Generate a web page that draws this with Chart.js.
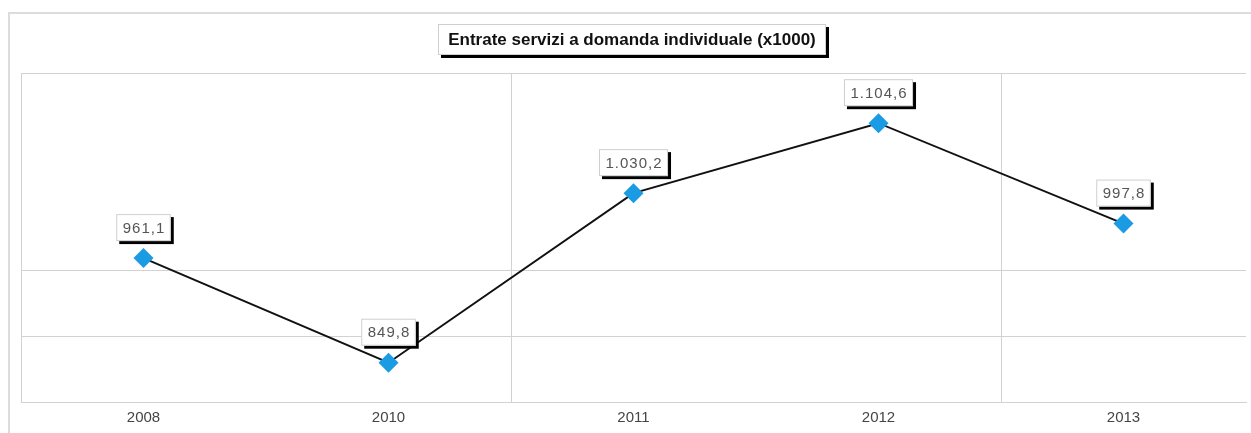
<!DOCTYPE html>
<html>
<head>
<meta charset="utf-8">
<script src="https://cdn.jsdelivr.net/npm/chart.js@4"></script>
<style>
  html, body { margin: 0; padding: 0; background: #fff; }
  body { width: 1251px; height: 433px; position: relative; overflow: hidden; font-family: "Liberation Sans", Arial, sans-serif; }
  #frame { position: absolute; left: 8px; top: 12px; width: 1260px; height: 440px; border: 2px solid #dcdcdc; box-sizing: border-box; }
  #wrap { position: absolute; left: 0; top: 0; width: 1251px; height: 433px; }
  #title {
    position: absolute; left: 438px; top: 24px; width: 388px; height: 31px;
    border: 1px solid #cfcfcf; box-shadow: 3px 3px 0 #000; background: #fff;
    font-weight: bold; font-size: 17px; line-height: 30px; text-align: center; color: #111;
    box-sizing: border-box; white-space: nowrap;
  }
</style>
</head>
<body>
<div id="frame"></div>
<div id="wrap"><canvas id="chart"></canvas></div>
<div id="title">Entrate servizi a domanda individuale (x1000)</div>
<script>
const years = ['2008', '2010', '2011', '2012', '2013'];
const values = [961.1, 849.8, 1030.2, 1104.6, 997.8];

// grid lines that the original shows (others are left out)
const xGridShown = [true, false, true, false, true, true];
const yGridShown = [true, true, true, false, false, true];

function fmt(v) {
  const parts = v.toFixed(1).split('.');
  const intPart = parts[0].replace(/\B(?=(\d{3})+(?!\d))/g, '.');
  return intPart + ',' + parts[1];
}

const boxLabels = {
  id: 'boxLabels',
  afterDatasetsDraw(chart) {
    const ctx = chart.ctx;
    const meta = chart.getDatasetMeta(0);
    ctx.save();
    ctx.font = '15px "Liberation Sans", Arial, sans-serif';
    ctx.letterSpacing = '1px';
    ctx.textAlign = 'center';
    ctx.textBaseline = 'middle';
    meta.data.forEach((pt, i) => {
      const text = fmt(values[i]);
      const w = ctx.measureText(text).width + 12;
      const h = 27;
      const x = pt.x - w / 2;
      const y = pt.y - 17 - h;
      ctx.fillStyle = '#000';
      ctx.fillRect(x + 3, y + 3, w, h);
      ctx.fillStyle = '#fff';
      ctx.fillRect(x, y, w, h);
      ctx.strokeStyle = '#cfcfcf';
      ctx.lineWidth = 1;
      ctx.strokeRect(x + 0.5, y + 0.5, w - 1, h - 1);
      ctx.fillStyle = '#555';
      ctx.fillText(text, pt.x + 0.5, y + h / 2 + 1);
    });
    ctx.restore();
  }
};

new Chart(document.getElementById('chart'), {
  type: 'line',
  data: {
    labels: years,
    datasets: [{
      data: values,
      borderColor: '#111',
      borderWidth: 2,
      tension: 0,
      pointStyle: 'rectRot',
      pointRadius: 10,
      pointHoverRadius: 10,
      pointBackgroundColor: '#1a9be3',
      pointBorderColor: '#1a9be3',
      pointBorderWidth: 0
    }]
  },
  options: {
    responsive: true,
    maintainAspectRatio: false,
    animation: false,
    layout: { autoPadding: false, padding: { left: 21, top: 73, right: 5, bottom: 0 } },
    plugins: { legend: { display: false }, tooltip: { enabled: false }, title: { display: false } },
    scales: {
      x: {
        offset: true,
        grid: {
          offset: true,
          drawTicks: false,
          color: ctx => xGridShown[ctx.index] ? '#d2d2d2' : 'rgba(0,0,0,0)',
          lineWidth: 1
        },
        border: { color: '#d2d2d2' },
        ticks: { color: '#444', font: { size: 15, family: '"Liberation Sans", Arial, sans-serif' }, padding: 6.5 }
      },
      y: {
        min: 808,
        max: 1158,
        ticks: { display: false, stepSize: 70 },
        grid: {
          drawTicks: false,
          color: ctx => yGridShown[ctx.index] ? '#d2d2d2' : 'rgba(0,0,0,0)'
        },
        border: { color: '#d2d2d2' }
      }
    }
  },
  plugins: [boxLabels]
});
</script>
</body>
</html>
